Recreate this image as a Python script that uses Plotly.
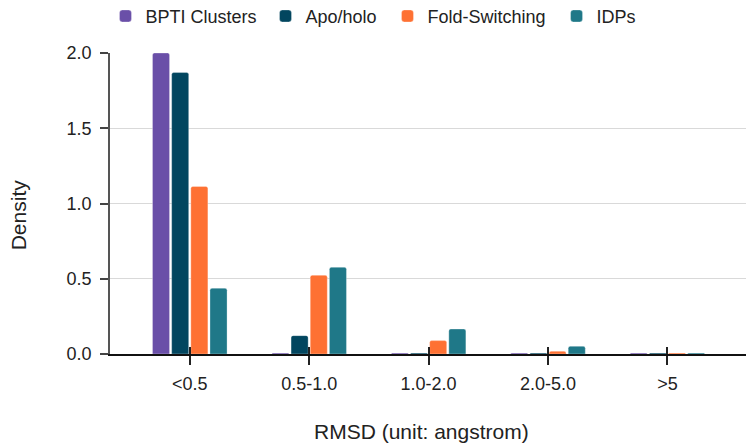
import plotly.graph_objects as go

categories = ["<0.5", "0.5-1.0", "1.0-2.0", "2.0-5.0", ">5"]
series_names = ["BPTI Clusters", "Apo/holo", "Fold-Switching", "IDPs"]
bpti = [2.0, 0.006, 0.006, 0.006, 0.006]
apo_holo = [1.87, 0.122, 0.006, 0.006, 0.006]
fold_switching = [1.113, 0.523, 0.089, 0.018, 0.006]
idps = [0.437, 0.576, 0.166, 0.051, 0.006]
colors = ["#6a4fa8", "#02465f", "#fe7133", "#1f7888"]
y_ticks = [0.0, 0.5, 1.0, 1.5, 2.0]
legend_x = [-0.0071, 0.2445, 0.4363, 0.7021]
x_title = "RMSD (unit: angstrom)"
y_title = "Density"

FONT = "'Liberation Sans', Arial, sans-serif"
idx = list(range(len(categories)))
legend_ids = ["legend", "legend2", "legend3", "legend4"]

fig = go.Figure()
for name, vals, col, lg in zip(series_names, [bpti, apo_holo, fold_switching, idps], colors, legend_ids):
    fig.add_trace(go.Bar(
        x=idx, y=vals, name=name, legend=lg,
        marker=dict(color=col, cornerradius=2, line=dict(color="rgba(255,255,255,0.6)", width=0.5)),
    ))

# invisible trace to activate overlay axis carrying the inner half of the crossing ticks
fig.add_trace(go.Scatter(x=idx, y=[0]*len(idx), xaxis="x2", mode="markers",
                         marker=dict(opacity=0), showlegend=False, hoverinfo="skip"))

legend_layout = {}
for lg, lx in zip(legend_ids, legend_x):
    legend_layout[lg] = dict(orientation="h", x=lx, xanchor="left", y=1.122, yanchor="middle",
                             font=dict(size=18, color="#222222"), bgcolor="rgba(0,0,0,0)")

xr = [-0.668, 4.658]
fig.update_layout(
    width=746, height=446,
    margin=dict(l=110, r=0, t=53, b=92, autoexpand=False),
    paper_bgcolor="white", plot_bgcolor="white",
    font=dict(family=FONT, size=18, color="#222222"),
    barmode="group", bargap=0.358, bargroupgap=0.11,
    showlegend=True,
    xaxis=dict(range=xr, tickmode="array", tickvals=idx, ticktext=categories,
               ticks="outside", ticklen=9, tickwidth=1.5, tickcolor="#222222",
               ticklabelstandoff=4,
               showline=True, linecolor="#111111", linewidth=1.5,
               showgrid=False, zeroline=False),
    xaxis2=dict(range=xr, overlaying="x", side="bottom", anchor="y",
                tickmode="array", tickvals=idx, ticktext=[""]*len(idx),
                ticks="inside", ticklen=7, tickwidth=1.5, tickcolor="#222222",
                showline=False, showgrid=False, zeroline=False, showticklabels=False),
    yaxis=dict(range=[0, 2.0], tickmode="array", tickvals=y_ticks,
               ticktext=[f"{v:.1f}" for v in y_ticks],
               ticks="outside", ticklen=8, tickwidth=1.5, tickcolor="#444444",
               ticklabelstandoff=5,
               showline=True, linecolor="#555555", linewidth=1.5,
               showgrid=True, gridcolor="#d9d9d9", gridwidth=1.2, zeroline=False),
    annotations=[
        dict(text=x_title, xref="paper", yref="paper", x=0.489, y=-0.257,
             xanchor="center", yanchor="middle", showarrow=False,
             font=dict(size=21, color="#222222")),
        dict(text=y_title, xref="paper", yref="paper", x=-0.1447, y=0.464,
             xanchor="center", yanchor="middle", showarrow=False, textangle=-90,
             font=dict(size=21, color="#222222")),
    ],
    **legend_layout,
)

fig.write_html("out.html", config={"displayModeBar": False},
               post_script="document.body.style.margin='0';")
